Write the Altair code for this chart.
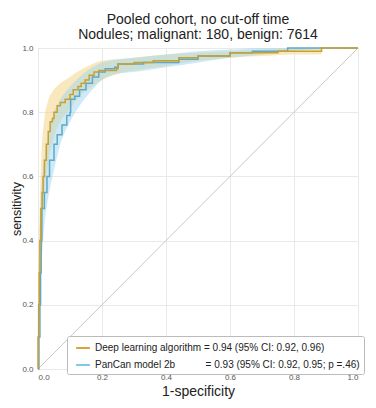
import altair as alt
import pandas as pd

# ROC points: Deep learning algorithm
dl_fpr = [0, 0, 0.002, 0.004, 0.006, 0.009, 0.013, 0.016, 0.02, 0.026, 0.032, 0.038, 0.045, 0.05, 0.06, 0.07,
          0.085, 0.1, 0.11, 0.125, 0.135, 0.147, 0.16, 0.175, 0.19, 0.245, 0.25, 0.3, 0.36, 0.44, 0.5, 0.6,
          0.75, 0.886, 0.886, 1.0]
dl_tpr = [0, 0.1, 0.2, 0.3, 0.4, 0.5, 0.55, 0.6, 0.65, 0.7, 0.74, 0.77, 0.78, 0.8, 0.82, 0.83,
          0.84, 0.855, 0.87, 0.88, 0.89, 0.9, 0.915, 0.925, 0.93, 0.935, 0.95, 0.955, 0.96, 0.97, 0.975, 0.985,
          0.99, 0.99, 1.0, 1.0]

# ROC points: PanCan model 2b
pc_fpr = [0, 0.003, 0.006, 0.008, 0.01, 0.012, 0.02, 0.028, 0.036, 0.05, 0.06, 0.075, 0.09, 0.1, 0.102,
          0.115, 0.13, 0.15, 0.17, 0.19, 0.21, 0.24, 0.25, 0.31, 0.33, 0.44, 0.5, 0.6, 0.67, 0.78, 1.0]
pc_tpr = [0, 0.1, 0.2, 0.3, 0.4, 0.5, 0.55, 0.6, 0.65, 0.7, 0.73, 0.76, 0.79, 0.8, 0.84,
          0.85, 0.87, 0.89, 0.91, 0.925, 0.935, 0.94, 0.95, 0.95, 0.955, 0.965, 0.975, 0.985, 0.99, 1.0, 1.0]

# Confidence bands
dl_band_x = [0, 0.01, 0.02, 0.03, 0.05, 0.07, 0.1, 0.13, 0.17, 0.2, 0.25, 0.3, 0.4, 0.5, 0.6, 0.7, 0.8, 0.886, 0.887, 1.0]
dl_band_lo = [0, 0.35, 0.55, 0.63, 0.72, 0.77, 0.81, 0.85, 0.88, 0.9, 0.92, 0.93, 0.945, 0.96, 0.97, 0.975, 0.98, 0.98, 1.0, 1.0]
dl_band_hi = [0.3, 0.65, 0.78, 0.83, 0.87, 0.89, 0.91, 0.93, 0.95, 0.96, 0.965, 0.97, 0.98, 0.985, 0.99, 0.995, 1.0, 1.0, 1.0, 1.0]

pc_band_x = [0, 0.01, 0.02, 0.03, 0.05, 0.07, 0.1, 0.13, 0.17, 0.2, 0.25, 0.3, 0.4, 0.5, 0.6, 0.7, 0.78, 1.0]
pc_band_lo = [0, 0.3, 0.45, 0.52, 0.62, 0.7, 0.77, 0.82, 0.87, 0.9, 0.92, 0.925, 0.94, 0.955, 0.97, 0.98, 0.99, 1.0]
pc_band_hi = [0.2, 0.55, 0.65, 0.72, 0.8, 0.84, 0.88, 0.91, 0.94, 0.955, 0.965, 0.97, 0.98, 0.99, 0.995, 1.0, 1.0, 1.0]

NBSP = "\u00a0"
label_dl = "Deep learning algorithm = 0.94 (95% CI: 0.92, 0.96)"
label_pc = "PanCan model 2b" + NBSP * 11 + "= 0.93 (95% CI: 0.92, 0.95; p =.46)"
series = [label_dl, label_pc]
line_colors = ["#C9A02E", "#5FA8C8"]
legend_colors = ["#D9A53A", "#7EC8E8"]
band_colors = ["#F3D27E", "#9FD6F0"]

FONT = "Liberation Sans"

dl_df = pd.DataFrame({"fpr": dl_fpr, "tpr": dl_tpr, "model": label_dl, "order": range(len(dl_fpr))})
pc_df = pd.DataFrame({"fpr": pc_fpr, "tpr": pc_tpr, "model": label_pc, "order": range(len(pc_fpr))})
lines_df = pd.concat([dl_df, pc_df])
bands_df = pd.concat([
    pd.DataFrame({"x": dl_band_x, "lo": dl_band_lo, "hi": dl_band_hi, "model": label_dl}),
    pd.DataFrame({"x": pc_band_x, "lo": pc_band_lo, "hi": pc_band_hi, "model": label_pc}),
])
diag_df = pd.DataFrame({"x": [0, 1], "y": [0, 1]})

xscale = alt.Scale(domain=[0, 1], nice=False)
yscale = alt.Scale(domain=[0, 1], nice=False)

xaxis = alt.Axis(values=[i / 10 for i in range(11)], format=".1f", title="1-specificity",
                 titleFontSize=14, titleFont=FONT, titleFontWeight="normal", titleColor="#222",
                 titlePadding=3, labelPadding=4)
yaxis = alt.Axis(values=[i / 10 for i in range(11)], format=".1f", title="sensitivity",
                 titleFontSize=12.5, titleFont=FONT, titleFontWeight="normal", titleColor="#222",
                 titleX=-22, titleBaseline="middle", labelPadding=5)

bands = alt.Chart(bands_df).mark_area(opacity=0.5, interpolate="monotone").encode(
    x=alt.X("x:Q", scale=xscale, axis=xaxis),
    y=alt.Y("lo:Q", scale=yscale, axis=yaxis),
    y2="hi:Q",
    color=alt.Color("model:N", scale=alt.Scale(domain=series, range=band_colors), legend=None),
)

diag = alt.Chart(diag_df).mark_line(color="#c8c8c8", strokeWidth=1).encode(
    x=alt.X("x:Q", scale=xscale),
    y=alt.Y("y:Q", scale=yscale),
)

pc_line = alt.Chart(pc_df).mark_line(strokeWidth=1.5, interpolate="step-after", color=line_colors[1]).encode(
    x=alt.X("fpr:Q", scale=xscale),
    y=alt.Y("tpr:Q", scale=yscale),
    order="order:Q",
)
dl_line = alt.Chart(dl_df).mark_line(strokeWidth=1.5, interpolate="step-after", color=line_colors[0]).encode(
    x=alt.X("fpr:Q", scale=xscale),
    y=alt.Y("tpr:Q", scale=yscale),
    order="order:Q",
)

legend_layer = alt.Chart(lines_df).mark_line(strokeWidth=0, opacity=0).encode(
    x=alt.X("fpr:Q", scale=xscale),
    y=alt.Y("tpr:Q", scale=yscale),
    order="order:Q",
    stroke=alt.Stroke("model:N", scale=alt.Scale(domain=series, range=legend_colors),
                      legend=alt.Legend(title=None, orient="none", legendX=29, legendY=288,
                                        symbolType="stroke", symbolSize=190, symbolStrokeWidth=2,
                                        labelFont=FONT, labelFontSize=10, labelColor="#222",
                                        labelLimit=400, fillColor="white", strokeColor="#bbbbbb",
                                        padding=4, rowPadding=4, cornerRadius=2, symbolOffset=4)),
)

chart = alt.layer(bands, diag, pc_line, dl_line, legend_layer).resolve_scale(
    color="independent", stroke="independent"
).properties(
    width=320, height=321,
    title=alt.TitleParams(["Pooled cohort, no cut-off time", "Nodules; malignant: 180, benign: 7614"],
                          font=FONT, fontSize=14, fontWeight="normal", color="#222",
                          anchor="middle", lineHeight=15, offset=2),
    autosize=alt.AutoSizeParams(type="none"),
    padding={"left": 30, "top": 40, "right": 10, "bottom": 31},
).configure_view(stroke="#cccccc", strokeWidth=1).configure_axis(
    grid=True, gridColor="#e9e9e9", domain=False, ticks=False,
    labelFont=FONT, labelFontSize=8, labelColor="#555",
)

chart.save("out.html", embed_options={"renderer": "svg", "actions": False})
